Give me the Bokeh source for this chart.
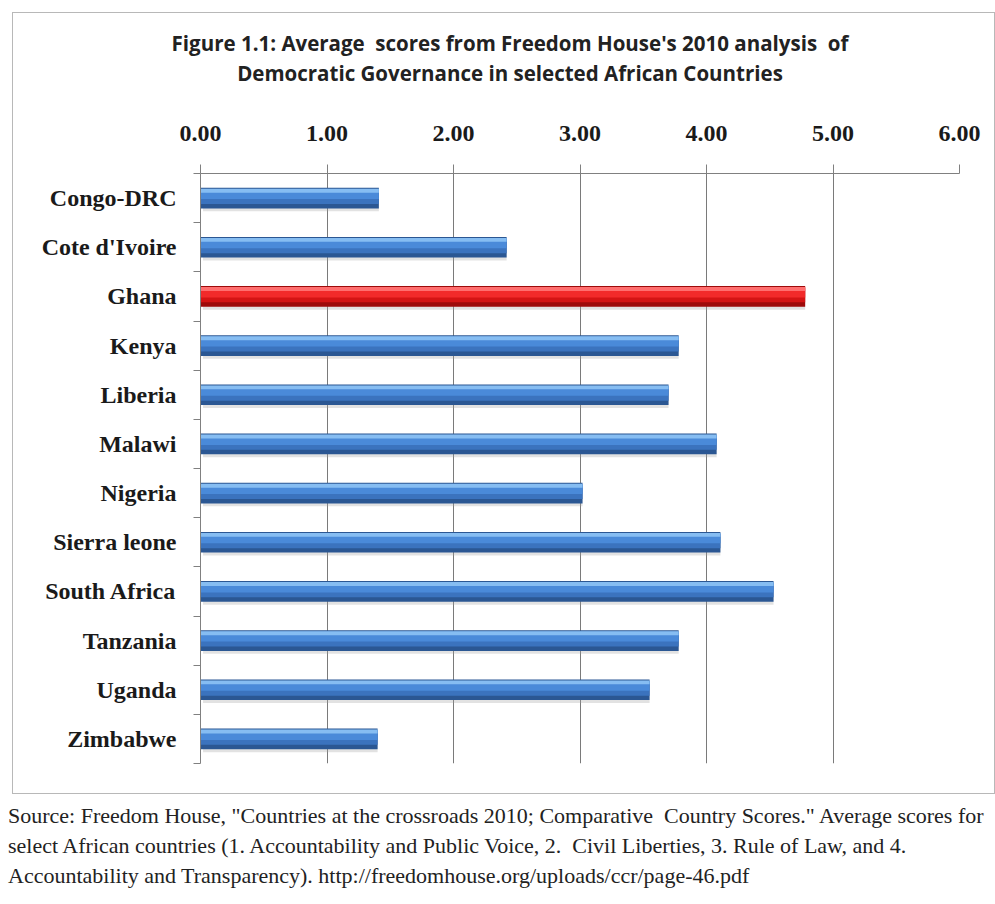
from bokeh.plotting import figure
from bokeh.models import (Range1d, ColumnDataSource, NumeralTickFormatter,
                          FixedTicker, LinearAxis, Div)
from bokeh.layouts import column
from bokeh.embed import file_html
from bokeh.resources import INLINE

countries = ["Congo-DRC", "Cote d'Ivoire", "Ghana", "Kenya", "Liberia", "Malawi",
             "Nigeria", "Sierra leone", "South Africa", "Tanzania", "Uganda", "Zimbabwe"]
scores = [1.41, 2.42, 4.78, 3.78, 3.70, 4.08, 3.02, 4.11, 4.53, 3.78, 3.55, 1.40]
highlight = "Ghana"
x_ticks = [0, 1, 2, 3, 4, 5, 6]

title_line1 = "Figure 1.1: Average&nbsp; scores from Freedom House's 2010 analysis&nbsp; of"
title_line2 = "Democratic Governance in selected African Countries"
source_lines = [
    "Source: Freedom House, \"Countries at the crossroads 2010; Comparative&nbsp; Country Scores.\" Average scores for",
    "select African countries (1. Accountability and Public Voice, 2.&nbsp; Civil Liberties, 3. Rule of Law, and 4.",
    "Accountability and Transparency). http://freedomhouse.org/uploads/ccr/page-46.pdf",
]

n = len(countries)
pos = [n - i - 0.5 for i in range(n)]  # first category at top
is_hl = [c == highlight for c in countries]
src = ColumnDataSource(dict(
    y=pos, x=scores,
    ys=[v - 0.06 for v in pos],
    y2=[v + 0.03 for v in pos],
    y3=[v + 0.08 for v in pos],
    y4=[v + 0.15 for v in pos],
    c1=["#9E0A0A" if h else "#2B5793" for h in is_hl],
    c2=["#D41414" if h else "#3B73BE" for h in is_hl],
    c3=["#F22A2A" if h else "#4A8AD9" for h in is_hl],
    c4=["#FF6E6E" if h else "#86BDF2" for h in is_hl],
))

title_div = Div(text=title_line1 + "<br>" + title_line2,
                styles={"font-family": "'Open Sans', sans-serif", "font-weight": "bold",
                        "font-size": "20.5px", "line-height": "30px", "color": "#222222",
                        "text-align": "center", "white-space": "nowrap",
                        "padding-top": "15px", "padding-left": "13px",
                        "box-sizing": "border-box"},
                width=981, height=85, margin=0)

p = figure(width=981, height=695,
           y_range=Range1d(0, n), x_range=Range1d(0, 6),
           x_axis_location="above", y_axis_location=None,
           output_backend="svg", toolbar_location=None,
           min_border_left=187, min_border_right=35,
           min_border_top=75, min_border_bottom=30)
p.title.visible = False
p.margin = 0
p.outline_line_color = None
p.background_fill_color = "white"

# x axis on top
xa = p.xaxis[0]
xa.ticker = FixedTicker(ticks=x_ticks)
xa.formatter = NumeralTickFormatter(format="0.00")
xa.major_label_text_font = "Liberation Serif"
xa.major_label_text_font_style = "bold"
xa.major_label_text_font_size = "24px"
xa.major_label_text_color = "#1a1a1a"
xa.major_tick_out = 9
xa.major_tick_in = 0
xa.minor_tick_line_color = None
xa.major_label_standoff = 24
xa.axis_line_color = "#808080"
xa.major_tick_line_color = "#808080"

p.xgrid.ticker = FixedTicker(ticks=x_ticks)
p.xgrid.grid_line_color = "#7a7a7a"
p.ygrid.grid_line_color = None

# left axis: labels at category centres, small ticks at category boundaries
ya = LinearAxis(ticker=FixedTicker(ticks=pos, minor_ticks=list(range(n + 1))),
                major_label_overrides={v: c for v, c in zip(pos, countries)},
                axis_line_color="#808080", major_tick_line_color=None,
                minor_tick_line_color="#808080", minor_tick_out=7, minor_tick_in=0,
                major_label_text_font="Liberation Serif",
                major_label_text_font_style="bold",
                major_label_text_font_size="24px",
                major_label_text_color="#1a1a1a",
                major_label_standoff=17)
p.add_layout(ya, "left")

# bars (layered for a glossy look)
p.hbar(y="ys", left=0.02, right="x", height=0.42,
       source=src, fill_color="#a0a0a0", fill_alpha=0.3, line_color=None)
p.hbar(y="y", left=0, right="x", height=0.42, source=src, fill_color="c1", line_color=None)
p.hbar(y="y2", left=0, right="x", height=0.30, source=src, fill_color="c2", line_color=None)
p.hbar(y="y3", left=0, right="x", height=0.20, source=src, fill_color="c3", line_color=None)
p.hbar(y="y4", left=0, right="x", height=0.08, source=src, fill_color="c4", line_color=None)

chart_box = column(title_div, p, margin=(12, 0, 0, 12),
                   styles={"border": "1px solid #b8b8b8", "background": "white"})

src_div = Div(text="<br>".join(source_lines),
              styles={"font-family": "'Liberation Serif', serif", "font-size": "22px",
                      "line-height": "30px", "color": "#222222", "white-space": "nowrap"},
              width=985, margin=(7, 0, 0, 8))

layout = column(chart_box, src_div)
open("out.html", "w").write(file_html(layout, INLINE))
